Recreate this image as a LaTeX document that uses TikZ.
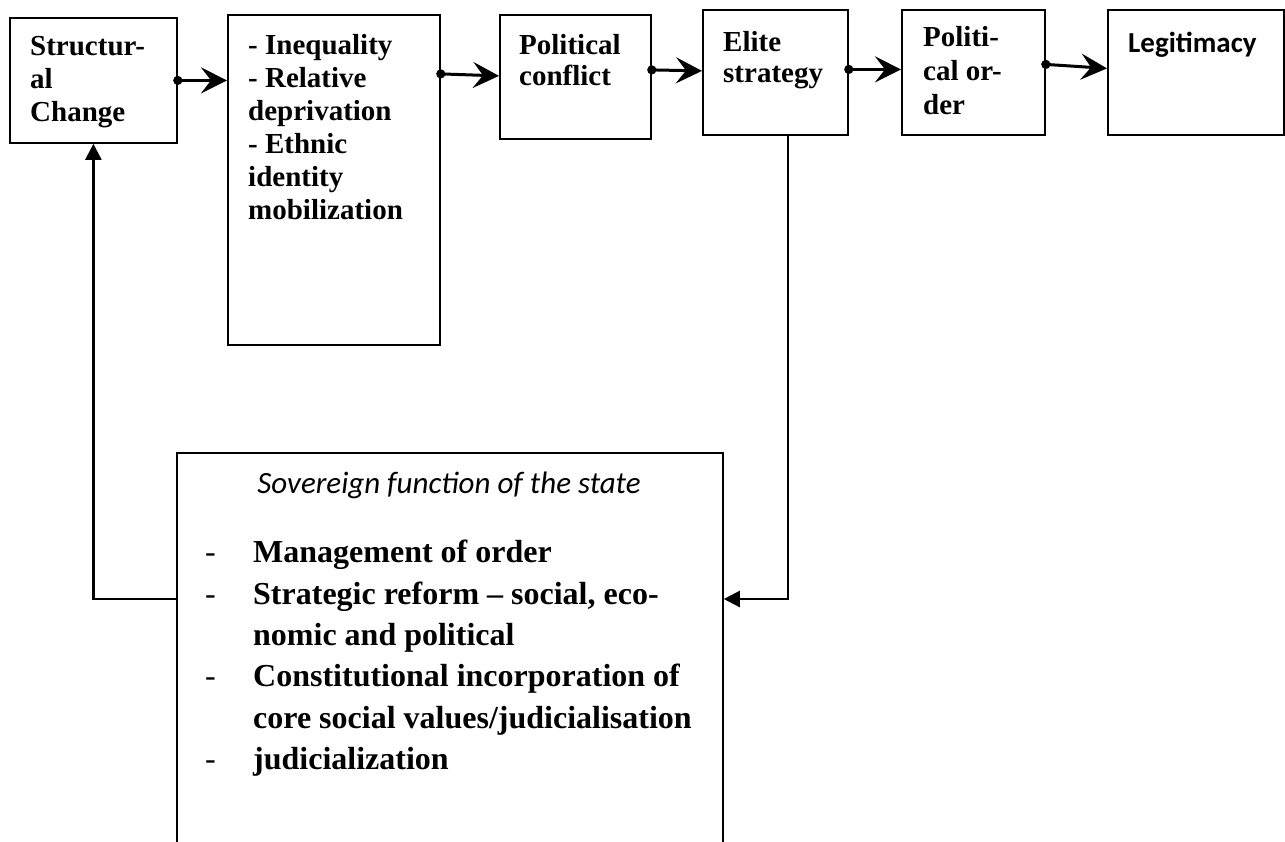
\documentclass[tikz,border=0pt]{standalone}
\usepackage{fontspec}
\setmainfont{Liberation Serif}
\newfontfamily\calibrifont{Carlito}
\usetikzlibrary{arrows.meta,positioning}
\tikzset{
  box/.style={draw, line width=1.8pt, rectangle, anchor=north west, inner sep=0pt},
  txt/.style={anchor=north west, inner sep=0pt, align=left, font=\fontsize{29pt}{33pt}\selectfont\bfseries},
  flow/.style={{Circle[length=9pt]}-{Stealth[length=26pt,width=26pt,inset=10pt]}, line width=3pt, shorten <=-4.5pt},
  back/.style={-{Triangle[length=16pt,width=16pt]}, line width=2.3pt},
}
\newcommand{\dashitem}{\makebox[48pt][l]{\mdseries -}}
\newcommand{\contitem}{\hspace*{48pt}}

\begin{document}
\begin{tikzpicture}[x=1pt,y=-1pt]
\useasboundingbox (0,0) rectangle (1285,841);
\clip (0,0) rectangle (1285,841);
% top row
\node[box, minimum width=167pt, minimum height=125pt] (struct) at (9,17) {};
\node[box, minimum width=212pt, minimum height=330pt] (ineq) at (227,14) {};
\node[box, minimum width=151pt, minimum height=124pt] (pc) at (499,14) {};
\node[box, minimum width=145pt, minimum height=125pt] (elite) at (702,9) {};
\node[box, minimum width=143pt, minimum height=125pt] (po) at (901,9) {};
\node[box, minimum width=176pt, minimum height=125pt] (legit) at (1107,9) {};
\node[txt] (struct-t) at (30,36) {Structur-\\al\\Change};
\node[txt] (ineq-t) at (248,34) {- Inequality\\- Relative\\deprivation\\- Ethnic\\identity\\mobilization};
\node[txt, font=\fontsize{29pt}{31pt}\selectfont\bfseries] (pc-t) at (519,34) {Political\\conflict};
\node[txt, font=\fontsize{29pt}{31pt}\selectfont\bfseries] (elite-t) at (723,31) {Elite\\strategy};
\node[txt, font=\fontsize{29pt}{34pt}\selectfont\bfseries] (po-t) at (923,26) {Politi-\\cal or-\\der};
\node[txt, font=\calibrifont\bfseries\fontsize{29pt}{33pt}\selectfont] (legit-t) at (1128,32) {Legitimacy};
\draw[flow] (struct.east) -- (struct.east -| ineq.west);
\draw[flow] ([yshift=3pt]ineq.east |- pc.west) -- ([yshift=1pt]pc.west);
\draw[flow] ([yshift=7pt]pc.east) -- ([yshift=1.5pt]elite.west);
\draw[flow] ([yshift=3pt]elite.east) -- ([yshift=3pt]po.west);
\draw[flow] ([yshift=8pt]po.east) -- ([yshift=4pt]legit.west);
% state box
\node[box, minimum width=546pt, minimum height=420pt] (sov) at (176,452) {};
\node[anchor=base, inner sep=0pt, font=\calibrifont\itshape\fontsize{31pt}{35pt}\selectfont] (sov-title) at (449,493) {Sovereign function of the state};
\node[txt, font=\fontsize{32pt}{41.4pt}\selectfont\bfseries] (sov-list) at (205,540)
  {\dashitem Management of order\\
   \dashitem Strategic reform – social, eco-\\
   \contitem nomic and political\\
   \dashitem Constitutional incorporation of\\
   \contitem core social values/judicialisation\\
   \dashitem judicialization};
% feedback
\coordinate (fb) at (0,599);
\draw[back] (sov.west |- fb) -| (struct.south);
\draw[back] ([xshift=12.5pt]elite.south) |- (sov.east |- fb);
\end{tikzpicture}
\end{document}
